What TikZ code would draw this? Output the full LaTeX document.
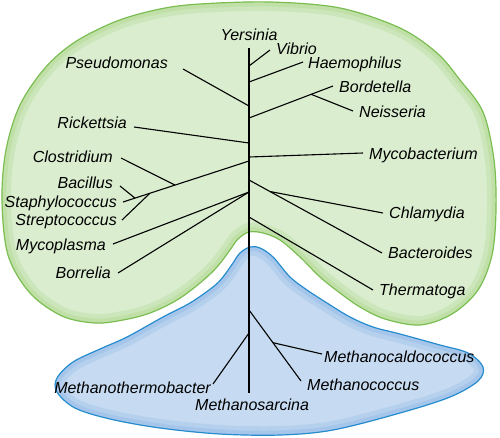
\documentclass[tikz,border=0pt]{standalone}
\usepackage{fontspec}
\setmainfont{Liberation Sans}
\usetikzlibrary{calc}

\definecolor{bactfill}{RGB}{218,237,207}
\definecolor{bactrim}{RGB}{192,224,168}
\definecolor{bactline}{RGB}{122,190,82}
\definecolor{archfill}{RGB}{198,219,241}
\definecolor{archrim}{RGB}{165,198,234}
\definecolor{archline}{RGB}{38,140,206}

\tikzset{
  lbl/.style={font=\itshape\fontsize{16}{19}\selectfont, inner sep=0pt},
  branch/.style={line width=1.1pt, black}
}

\def\bactpath{plot[smooth cycle, tension=0.55] coordinates {
  (249,232) (263,233) (280,240) (300,257) (320,277) (340,293) (360,307)
  (385,319) (420,325) (452,314) (478,290) (492,255) (496,210) (494,160)
  (483,112) (460,80) (437,53) (400,28) (340,8) (270,2) (200,4) (160,9)
  (117,21) (75,42) (45,68) (20,105) (6,150) (2,200) (8,255) (30,293)
  (62,316) (95,323) (123,320) (150,313) (177,300) (200,283) (217,267)
  (230,250) (238,239)}}
\def\archpath{plot[smooth cycle, tension=0.55] coordinates {
  (250,247) (260,248) (273,257) (290,277) (307,290) (327,303) (350,317)
  (373,327) (400,334) (440,345) (468,353) (483,367) (478,381) (450,397)
  (400,413) (333,430) (280,435) (220,434) (160,428) (110,419) (75,408)
  (57,392) (57,378) (73,362) (100,349) (127,337) (163,317) (190,303)
  (213,287) (223,277) (233,263) (240,253)}}

\begin{document}
\begin{tikzpicture}[x=1pt, y=-1pt]
  \useasboundingbox (0,0) rectangle (500,437);

  % Bacteria blob
  \fill[bactfill] \bactpath;
  \begin{scope}
    \clip \bactpath;
    \draw[bactrim, line width=18pt, opacity=0.5] \bactpath;
    \draw[bactrim, line width=9pt] \bactpath;
  \end{scope}
  \draw[bactline, line width=1.2pt] \bactpath;

  % Archaea blob
  \fill[archfill] \archpath;
  \begin{scope}
    \clip \archpath;
    \draw[archrim, line width=18pt, opacity=0.5] \archpath;
    \draw[archrim, line width=9pt] \archpath;
  \end{scope}
  \draw[archline, line width=1.2pt] \archpath;

  % Trunk and junctions
  \coordinate (top) at (249,48);
  \coordinate (bot) at (249,393);
  \coordinate (jvib) at (249,66);
  \coordinate (jhae) at (249,82);
  \coordinate (jpse) at (249,106);
  \coordinate (jbor) at (249,118);
  \coordinate (jric) at (249,143);
  \coordinate (jmyb) at (249,157);
  \coordinate (jsta) at (249,161);
  \coordinate (jbac) at (249,180);
  \coordinate (jmyp) at (249,192);
  \coordinate (jthe) at (249,217);
  \coordinate (jmco) at (249,310);
  \coordinate (jmth) at (249,333);

  % Branch tips
  \coordinate (tvib) at (270,50);
  \coordinate (thae) at (303,62);
  \coordinate (tpse) at (183,69);
  \coordinate (tbor) at (333,86);
  \coordinate (tnei) at (353,111);
  \coordinate (tric) at (134,127);
  \coordinate (tmyb) at (363,153);
  \coordinate (tsta) at (123,202);
  \coordinate (tclo) at (121,158);
  \coordinate (tbcl) at (120,186);
  \coordinate (tstr) at (122,220);
  \coordinate (tchl) at (383,213);
  \coordinate (tbct) at (382,253);
  \coordinate (tmyp) at (113,244);
  \coordinate (tbrr) at (118,273);
  \coordinate (tthe) at (373,290);
  \coordinate (tmco) at (301,381);
  \coordinate (tmcd) at (322,354);
  \coordinate (tmth) at (213,384);

  % Labels
  \node[lbl, anchor=base] (yer) at (249,40) {Yersinia};
  \node[lbl, anchor=base west] (vib) at (276,54) {Vibrio};
  \node[lbl, anchor=base west] (hae) at (308,68) {Haemophilus};
  \node[lbl, anchor=base west] (bor) at (339,92) {Bordetella};
  \node[lbl, anchor=base west] (nei) at (359,117) {Neisseria};
  \node[lbl, anchor=base west] (myb) at (369,159) {Mycobacterium};
  \node[lbl, anchor=base west] (chl) at (389,218) {Chlamydia};
  \node[lbl, anchor=base west] (bct) at (388,258) {Bacteroides};
  \node[lbl, anchor=base west] (the) at (379,295) {Thermatoga};
  \node[lbl, anchor=base east] (pse) at (168,68) {Pseudomonas};
  \node[lbl, anchor=base east] (ric) at (127,128) {Rickettsia};
  \node[lbl, anchor=base east] (clo) at (113,162) {Clostridium};
  \node[lbl, anchor=base east] (bcl) at (113,188) {Bacillus};
  \node[lbl, anchor=base east] (sta) at (117,207) {Staphylococcus};
  \node[lbl, anchor=base east] (str) at (117,225) {Streptococcus};
  \node[lbl, anchor=base east] (myp) at (106,250) {Mycoplasma};
  \node[lbl, anchor=base east] (brr) at (111,278) {Borrelia};
  \node[lbl, anchor=base west] (mcd) at (324,362) {Methanocaldococcus};
  \node[lbl, anchor=base west] (mco) at (307,390) {Methanococcus};
  \node[lbl, anchor=base east] (mth) at (211,393) {Methanothermobacter};
  \node[lbl, anchor=base west] (msa) at (195,410) {Methanosarcina};

  % Tree
  \draw[branch] (top) -- (bot);
  \draw[branch] (jvib) -- (tvib);
  \draw[branch] (jhae) -- (thae);
  \draw[branch] (jpse) -- (tpse);
  \draw[branch] (jbor) -- (tbor);
  \draw[branch] ($(jbor)!0.74!(tbor)$) -- (tnei);
  \draw[branch] (jric) -- (tric);
  \draw[branch] (jmyb) -- (tmyb);
  \draw[branch] (jsta) -- (tsta);
  \draw[branch] ($(jsta)!0.587!(tsta)$) -- (tclo);
  \draw[branch] ($(jsta)!0.786!(tsta)$) -- (tstr);
  \draw[branch] ($(jsta)!0.905!(tsta)$) -- (tbcl);
  \draw[branch] (jbac) -- (tbct);
  \draw[branch] ($(jbac)!0.158!(tbct)$) -- (tchl);
  \draw[branch] (jmyp) -- (tmyp);
  \draw[branch] (jmyp) -- (tbrr);
  \draw[branch] (jthe) -- (tthe);
  \draw[branch] (jmco) -- (tmco);
  \draw[branch] ($(jmco)!0.46!(tmco)$) -- (tmcd);
  \draw[branch] (jmth) -- (tmth);
\end{tikzpicture}
\end{document}
